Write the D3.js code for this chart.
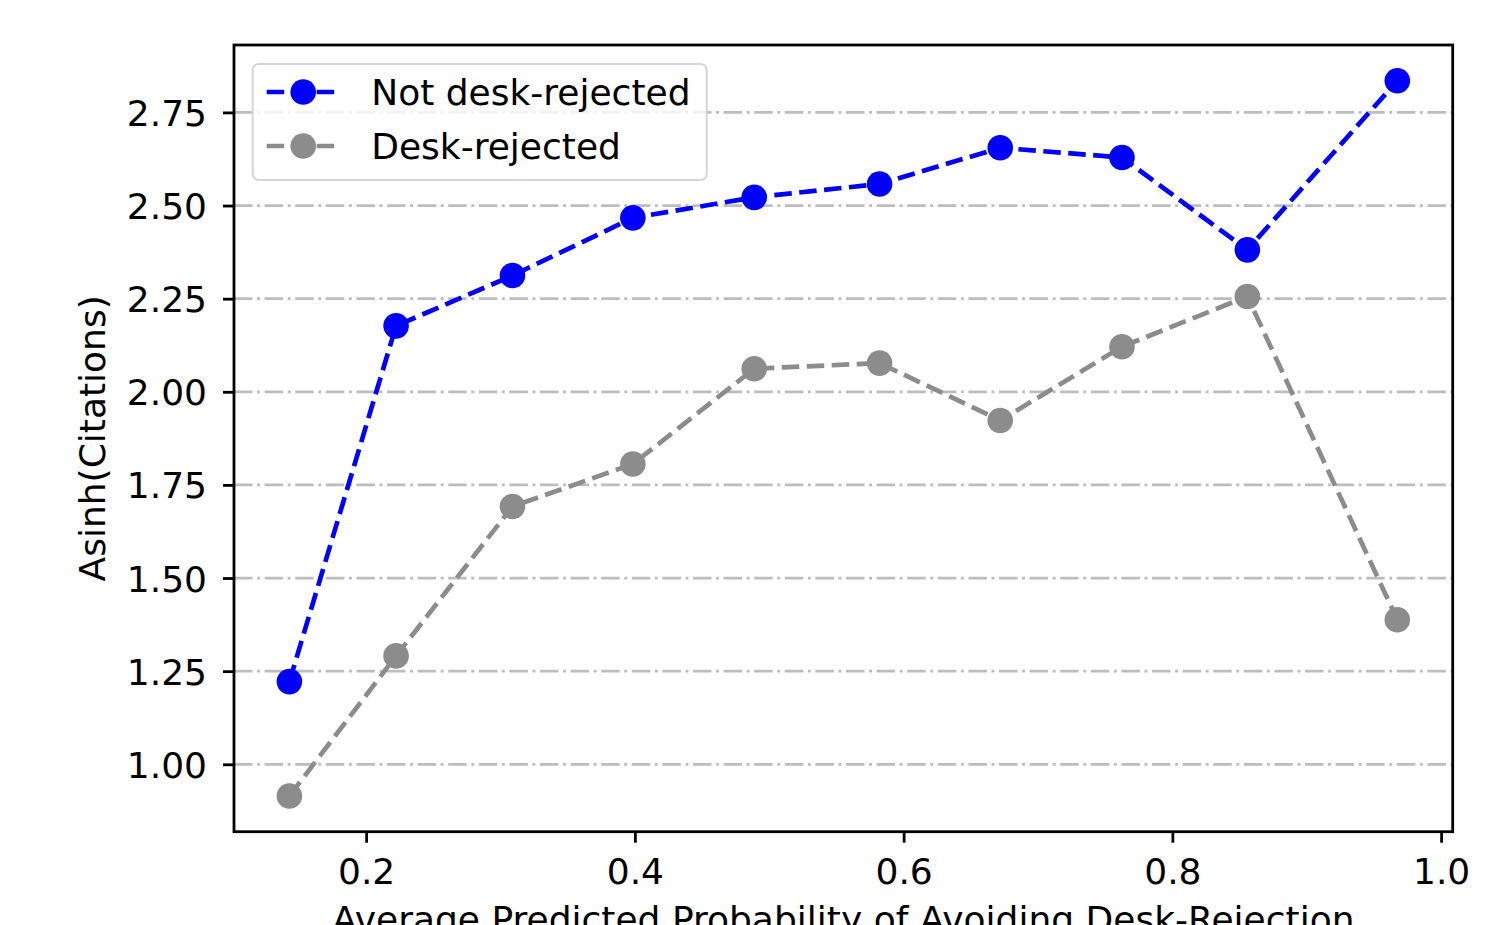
<!DOCTYPE html>
<html>
<head>
<meta charset="utf-8">
<script src="https://cdn.jsdelivr.net/npm/d3@7"></script>
<style>
  html, body { margin: 0; padding: 0; background: #fff; overflow: hidden; }
  svg { display: block; font-family: "DejaVu Sans", sans-serif; }
</style>
</head>
<body>
<div id="chart"></div>
<script>
// average predicted probability of avoiding desk-rejection (bin means)
const probNotRejected = [0.1429, 0.2223, 0.3089, 0.3985, 0.4888, 0.5821, 0.6719, 0.7625, 0.8558, 0.9674];
const probRejected    = [0.1429, 0.2223, 0.3089, 0.3985, 0.4888, 0.5821, 0.6719, 0.7625, 0.8558, 0.9674];
const citesNotRejected = [1.222, 2.177, 2.312, 2.467, 2.522, 2.558, 2.655, 2.629, 2.381, 2.835];
const citesRejected    = [0.915, 1.291, 1.692, 1.806, 2.062, 2.077, 1.923, 2.121, 2.256, 1.388];
const xTicks = [0.2, 0.4, 0.6, 0.8, 1.0];
const yTicks = [1.00, 1.25, 1.50, 1.75, 2.00, 2.25, 2.50, 2.75];

const width = 1508, height = 925;
const margin = {top: 45, right: 55.3, bottom: 93.3, left: 234};
const fontSize = 36;

const series = [
    {label: "Not desk-rejected", color: "#0000ff", xs: probNotRejected, ys: citesNotRejected},
    {label: "Desk-rejected", color: "#8c8c8c", xs: probRejected, ys: citesRejected}
];

// matplotlib style autoscale: 5% margin on each side
function padded(values) {
    const [lo, hi] = d3.extent(values);
    const m = (hi - lo) * 0.05;
    return [lo - m, hi + m];
}

const svg = d3.select("#chart").append("svg")
    .attr("width", width)
    .attr("height", height);

const x = d3.scaleLinear()
    .domain(padded(probNotRejected.concat(probRejected)))
    .range([margin.left, width - margin.right]);

const y = d3.scaleLinear()
    .domain(padded(citesNotRejected.concat(citesRejected)))
    .range([height - margin.bottom, margin.top]);

// grid
svg.append("g")
    .selectAll("line")
    .data(yTicks)
    .join("line")
    .attr("x1", margin.left)
    .attr("x2", width - margin.right)
    .attr("y1", d => y(d))
    .attr("y2", d => y(d))
    .attr("stroke", "#bdbdbd")
    .attr("stroke-width", 2.8)
    .attr("stroke-dasharray", "18.5,4.6,2.9,4.6");

// lines + markers
const line = d3.line().x(d => x(d[0])).y(d => y(d[1]));
series.forEach(s => {
    const pts = s.xs.map((v, i) => [v, s.ys[i]]);
    svg.append("path")
        .datum(pts)
        .attr("d", line)
        .attr("fill", "none")
        .attr("stroke", s.color)
        .attr("stroke-width", 4.7)
        .attr("stroke-dasharray", "17.5,7.5");
    svg.append("g")
        .selectAll("circle")
        .data(pts)
        .join("circle")
        .attr("cx", d => x(d[0]))
        .attr("cy", d => y(d[1]))
        .attr("r", 12.8)
        .attr("fill", s.color);
});

// axes
const xAxis = svg.append("g")
    .attr("transform", `translate(0,${height - margin.bottom})`)
    .call(d3.axisBottom(x).tickValues(xTicks).tickFormat(d3.format(".1f")).tickSize(11).tickPadding(16));

const yAxis = svg.append("g")
    .attr("transform", `translate(${margin.left},0)`)
    .call(d3.axisLeft(y).tickValues(yTicks).tickFormat(d3.format(".2f")).tickSize(11).tickPadding(16));

[xAxis, yAxis].forEach(ax => {
    ax.select(".domain").remove();
    ax.selectAll(".tick line").attr("stroke", "#000").attr("stroke-width", 2.8);
    ax.selectAll(".tick text")
        .attr("fill", "#000")
        .style("font-size", fontSize + "px")
        .style("font-family", "DejaVu Sans, sans-serif");
});
yAxis.selectAll(".tick text").attr("dy", "0.36em");

// frame
svg.append("rect")
    .attr("x", margin.left)
    .attr("y", margin.top)
    .attr("width", width - margin.left - margin.right)
    .attr("height", height - margin.top - margin.bottom)
    .attr("fill", "none")
    .attr("stroke", "#000")
    .attr("stroke-width", 2.8);

// axis labels (x label is clipped by the bottom edge, as in the original figure)
svg.append("text")
    .attr("x", (margin.left + width - margin.right) / 2)
    .attr("y", 932)
    .attr("text-anchor", "middle")
    .style("font-size", fontSize + "px")
    .text("Average Predicted Probability of Avoiding Desk-Rejection");

svg.append("text")
    .attr("transform", `translate(105,${(margin.top + height - margin.bottom) / 2}) rotate(-90)`)
    .attr("text-anchor", "middle")
    .style("font-size", fontSize + "px")
    .text("Asinh(Citations)");

// legend
const legend = svg.append("g").attr("transform", "translate(252.7,64)");
legend.append("rect")
    .attr("width", 454)
    .attr("height", 116)
    .attr("rx", 6)
    .attr("fill", "#fff")
    .attr("fill-opacity", 0.8)
    .attr("stroke", "#d6d6d6")
    .attr("stroke-width", 2);

series.forEach((s, i) => {
    const row = legend.append("g").attr("transform", `translate(0,${28 + i * 54})`);
    row.append("line")
        .attr("x1", 14).attr("x2", 88)
        .attr("stroke", s.color)
        .attr("stroke-width", 4.7)
        .attr("stroke-dasharray", "17.5,7.5");
    row.append("circle")
        .attr("cx", 50.5)
        .attr("r", 12.8)
        .attr("fill", s.color);
    row.append("text")
        .attr("x", 118.5)
        .attr("dy", "0.36em")
        .style("font-size", fontSize + "px")
        .text(s.label);
});
</script>
</body>
</html>
